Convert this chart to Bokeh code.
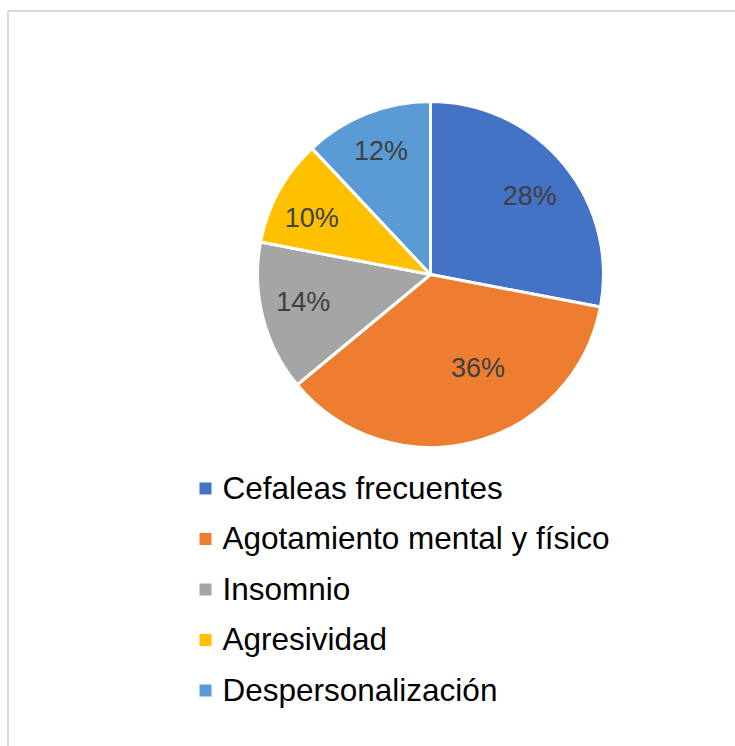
import math
from bokeh.plotting import figure
from bokeh.models import Range1d, ColumnDataSource
from bokeh.core.properties import value
from bokeh.embed import file_html
from bokeh.resources import INLINE

# ---- data ----
categories = ["Cefaleas frecuentes", "Agotamiento mental y físico", "Insomnio",
              "Agresividad", "Despersonalización"]
percent = [28, 36, 14, 10, 12]
colors = ["#4472C4", "#ED7D31", "#A5A5A5", "#FFC000", "#5B9BD5"]

# ---- layout (pixel space, y up; figure origin = page origin) ----
W, H = 735, 746
cx, cy = 430, H - 274
R = 173
label_frac = 0.73
label_nudge = [(2, 2), (16, -29), (-5, -4), (-8, 4), (-3, -6)]  # style tweak (px, right/down)

p = figure(width=W, height=H, output_backend="svg", toolbar_location=None,
           x_range=Range1d(0, W), y_range=Range1d(0, H), min_border=0)
p.axis.visible = False
p.grid.visible = False
p.outline_line_color = None
p.background_fill_color = "white"
p.border_fill_color = "white"

# frame (top and left edges visible in reference)
p.segment(x0=[7.5, 7.5], y0=[H - 10.5, 0], x1=[W, 7.5], y1=[H - 10.5, H - 10.5],
          line_color="#d9d9d9", line_width=2)

total = float(sum(percent))
starts, ends, lx, ly, ltxt = [], [], [], [], []
cum = 0.0
for i, v in enumerate(percent):
    a0 = math.pi / 2 - 2 * math.pi * cum / total
    cum += v
    a1 = math.pi / 2 - 2 * math.pi * cum / total
    starts.append(a0)
    ends.append(a1)
    mid = (a0 + a1) / 2
    dx, dy = label_nudge[i]
    lx.append(cx + label_frac * R * math.cos(mid) + dx)
    ly.append(cy + label_frac * R * math.sin(mid) - dy)
    ltxt.append(f"{v}%")

src = ColumnDataSource(dict(start=starts, end=ends, color=colors))
p.wedge(x=cx, y=cy, radius=R, start_angle="start", end_angle="end",
        direction="clock", fill_color="color", line_color="white",
        line_width=3, source=src)

p.text(x=lx, y=ly, text=ltxt, text_align="center", text_baseline="middle",
       text_font=value("Liberation Sans"), text_font_size="27px",
       text_color="#404040")

# legend
leg_x = 205
leg_y0 = H - 488
leg_step = 50.5
sq_y = [leg_y0 - k * leg_step for k in range(len(categories))]
p.rect(x=[leg_x] * len(categories), y=sq_y, width=12, height=12,
       fill_color=colors, line_color=None)
p.text(x=[leg_x + 17] * len(categories), y=[y + 1 for y in sq_y], text=categories,
       text_align="left", text_baseline="middle",
       text_font=value("Liberation Sans"), text_font_size="31.5px",
       text_color="#000000")

open("out.html", "w").write(file_html(p, INLINE))
